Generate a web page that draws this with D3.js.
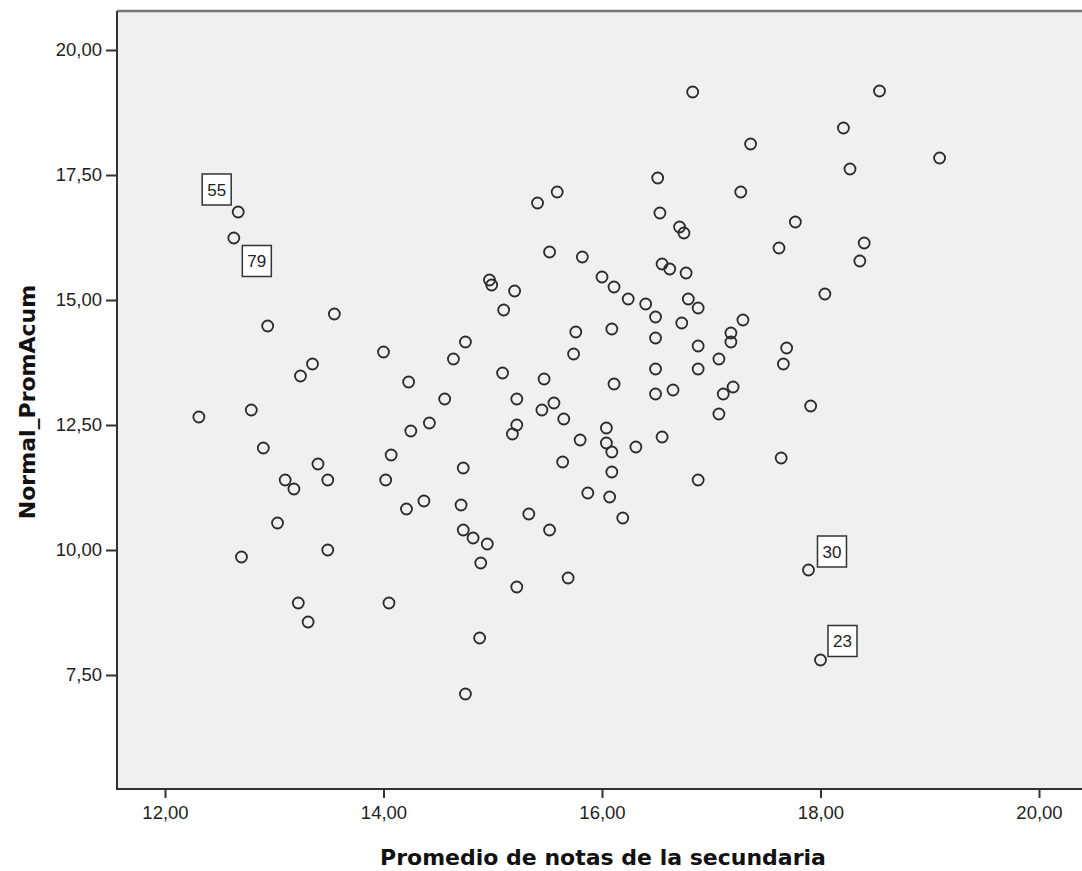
<!DOCTYPE html>
<html>
<head>
<meta charset="utf-8">
<script src="https://cdn.jsdelivr.net/npm/d3@7"></script>
<style>
  body { margin: 0; background: #fff; }
  svg { display: block; }
</style>
</head>
<body>
<svg id="chart" width="1082" height="871"></svg>
<script>
// Promedio de notas de la secundaria (x)
const secundaria = [
  12.67, 12.63, 13.55, 12.94, 13.35, 13.24, 12.79, 12.31, 12.90, 13.40, 13.49, 13.10, 13.18, 13.03, 13.49, 12.70, 13.22, 13.31,
  14.97, 14.99, 15.20, 15.10, 15.41, 15.59, 15.52, 15.82, 16.00, 16.11, 16.24, 16.40, 16.49, 16.79, 16.88, 16.73, 15.76, 16.09,
  15.74, 16.49, 16.88, 14.00, 14.75, 14.64, 15.09, 14.23, 15.47, 16.49, 16.88, 15.22, 14.56, 15.56, 15.45, 16.65, 16.49, 16.11,
  14.42, 14.25, 15.22, 15.18, 15.65, 16.04, 15.80, 16.04, 16.09, 16.31, 16.55, 14.07, 16.88, 15.64, 16.09, 14.73, 14.02, 14.37,
  14.21, 14.71, 15.87, 16.07, 16.19, 15.33, 15.52, 14.73, 14.82, 14.95, 14.89, 15.69, 15.22, 14.05, 14.88, 14.75,
  16.83, 16.51, 16.53, 16.71, 16.75, 16.77, 16.55, 16.62,
  17.29, 17.18, 17.18, 17.69, 17.66, 17.07, 17.20, 17.11, 17.07, 17.91, 17.64,
  18.54, 18.21, 17.36, 19.09, 18.27, 17.27, 17.77, 17.62, 18.40, 18.36, 18.04,
  17.89, 18.00
];
// Normal_PromAcum (y)
const promAcum = [
  16.76, 16.24, 14.72, 14.48, 13.72, 13.48, 12.80, 12.66, 12.04, 11.72, 11.40, 11.40, 11.22, 10.54, 10.00, 9.86, 8.94, 8.56,
  15.40, 15.30, 15.18, 14.80, 16.94, 17.16, 15.96, 15.86, 15.46, 15.26, 15.02, 14.92, 14.66, 15.02, 14.84, 14.54, 14.36, 14.42,
  13.92, 14.24, 14.08, 13.96, 14.16, 13.82, 13.54, 13.36, 13.42, 13.62, 13.62, 13.02, 13.02, 12.94, 12.80, 13.20, 13.12, 13.32,
  12.54, 12.38, 12.50, 12.32, 12.62, 12.44, 12.20, 12.14, 11.96, 12.06, 12.26, 11.90, 11.40, 11.76, 11.56, 11.64, 11.40, 10.98,
  10.82, 10.90, 11.14, 11.06, 10.64, 10.72, 10.40, 10.40, 10.24, 10.12, 9.74, 9.44, 9.26, 8.94, 8.24, 7.12,
  19.16, 17.44, 16.74, 16.46, 16.34, 15.54, 15.72, 15.62,
  14.60, 14.34, 14.16, 14.04, 13.72, 13.82, 13.26, 13.12, 12.72, 12.88, 11.84,
  19.18, 18.44, 18.12, 17.84, 17.62, 17.16, 16.56, 16.04, 16.14, 15.78, 15.12,
  9.60, 7.80
];

const xTicks = [12, 14, 16, 18, 20];
const yTicks = [7.5, 10, 12.5, 15, 17.5, 20];

// case labels shown on the chart and the point they belong to
const caseLabels = ["55", "79", "30", "23"];
const casePoint = [0, 1, 118, 119];

const svg = d3.select("#chart");

// plot frame in pixels
const plot = { left: 117, top: 11, right: 1090, bottom: 789 };

const x = d3.scaleLinear().domain([12, 20]).range([165, 1039]);
const y = d3.scaleLinear().domain([7.5, 20]).range([675, 50]);

const fmt = v => d3.format(".2f")(v).replace(".", ",");

// background
svg.append("rect")
  .attr("x", plot.left)
  .attr("y", plot.top)
  .attr("width", plot.right - plot.left)
  .attr("height", plot.bottom - plot.top)
  .attr("fill", "#f0f0f0");

// top frame line
svg.append("line")
  .attr("x1", plot.left).attr("x2", plot.right)
  .attr("y1", plot.top).attr("y2", plot.top)
  .attr("stroke", "#777").attr("stroke-width", 2.5);

// axes
const xAxis = svg.append("g")
  .attr("transform", `translate(0,${plot.bottom})`)
  .call(d3.axisBottom(x).tickValues(xTicks).tickFormat(fmt).tickSize(9).tickPadding(8));

const yAxis = svg.append("g")
  .attr("transform", `translate(${plot.left},0)`)
  .call(d3.axisLeft(y).tickValues(yTicks).tickFormat(fmt).tickSize(11).tickPadding(4));

[xAxis, yAxis].forEach(g => {
  g.select(".domain").remove();
  g.selectAll(".tick line").attr("stroke", "#333").attr("stroke-width", 2);
  g.selectAll(".tick text")
    .attr("fill", "#222")
    .style("font-family", "'Liberation Sans', Arial, sans-serif")
    .style("font-size", "18.5px");
});

// axis lines
svg.append("line")
  .attr("x1", plot.left).attr("x2", plot.left)
  .attr("y1", plot.top).attr("y2", plot.bottom + 1)
  .attr("stroke", "#333").attr("stroke-width", 2);
svg.append("line")
  .attr("x1", plot.left).attr("x2", plot.right)
  .attr("y1", plot.bottom).attr("y2", plot.bottom)
  .attr("stroke", "#333").attr("stroke-width", 2);

// points
svg.append("g")
  .selectAll("circle")
  .data(d3.range(secundaria.length))
  .join("circle")
  .attr("cx", i => x(secundaria[i]))
  .attr("cy", i => y(promAcum[i]))
  .attr("r", 5.5)
  .attr("fill", "none")
  .attr("stroke", "#2b2b2b")
  .attr("stroke-width", 1.8);

// case label boxes (offset from their point)
const labelOffset = [[-21.5, -22.5], [23, 23], [23.5, -18.5], [22, -19]];
const lab = svg.append("g")
  .selectAll("g")
  .data(caseLabels.map((t, k) => ({ t, i: casePoint[k], o: labelOffset[k] })))
  .join("g")
  .attr("transform", d => `translate(${x(secundaria[d.i]) + d.o[0]},${y(promAcum[d.i]) + d.o[1]})`);

lab.append("rect")
  .attr("x", -14.5).attr("y", -15.5)
  .attr("width", 29).attr("height", 31)
  .attr("fill", "#fff")
  .attr("stroke", "#333")
  .attr("stroke-width", 1.5);

lab.append("text")
  .attr("text-anchor", "middle")
  .attr("dy", "0.36em")
  .attr("fill", "#222")
  .style("font-family", "'Liberation Sans', Arial, sans-serif")
  .style("font-size", "17px")
  .text(d => d.t);

// axis titles
svg.append("text")
  .attr("x", 603)
  .attr("y", 865)
  .attr("text-anchor", "middle")
  .style("font-family", "'DejaVu Sans', Verdana, sans-serif")
  .style("font-weight", "bold")
  .style("font-size", "22px")
  .attr("fill", "#111")
  .text("Promedio de notas de la secundaria");

svg.append("text")
  .attr("transform", "translate(35,402) rotate(-90)")
  .attr("text-anchor", "middle")
  .style("font-family", "'DejaVu Sans', Verdana, sans-serif")
  .style("font-weight", "bold")
  .style("font-size", "22px")
  .attr("fill", "#111")
  .text("Normal_PromAcum");
</script>
</body>
</html>
